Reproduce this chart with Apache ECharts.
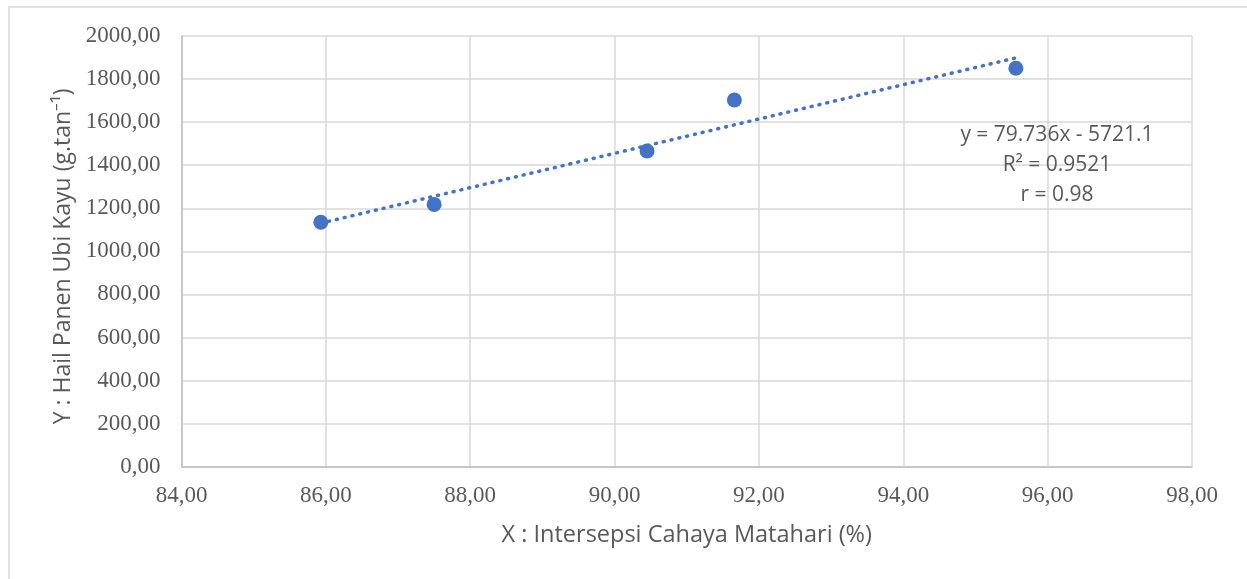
<!DOCTYPE html>
<html>
<head>
<meta charset="utf-8">
<script src="https://cdn.jsdelivr.net/npm/echarts@6/dist/echarts.min.js"></script>
<style>html,body{margin:0;padding:0;background:#fff;}#c{width:1247px;height:579px;}</style>
</head>
<body>
<div id="c"></div>
<script>
// Data
const xValues = [85.93, 87.50, 90.45, 91.66, 95.56];
const yValues = [1135, 1218, 1466, 1703, 1850];
// Trendline endpoints (linear fit as shown on chart)
const trendX = [85.93, 95.56];
const trendY = [1130.6, 1898.4];
const equationLines = ['y = 79.736x - 5721.1', 'R² = 0.9521', 'r = 0.98'];
const xTitle = 'X : Intersepsi Cahaya Matahari (%)';
const yTitle = 'Y : Hail Panen Ubi Kayu (g.tan⁻¹)';
const xMin = 84, xMax = 98, xStep = 2;
const yMin = 0, yMax = 2000, yStep = 200;

const fmt = v => v.toFixed(2).replace('.', ',');
const chart = echarts.init(document.getElementById('c'), null, {renderer: 'canvas'});
const tickFont = {fontFamily: '"Liberation Serif", "Times New Roman", serif', fontSize: 23, color: '#595959'};
const sans = '"Open Sans", "Noto Sans", sans-serif';

chart.setOption({
  animation: false,
  backgroundColor: '#fff',
  grid: {left: 181.5, right: 55, top: 36, bottom: 112.3, containLabel: false},
  xAxis: {
    type: 'value', min: xMin, max: xMax, interval: xStep,
    name: xTitle, nameLocation: 'middle', nameGap: 57,
    nameTextStyle: {fontFamily: sans, fontSize: 23.5, color: '#595959'},
    axisLine: {show: true, onZero: false, lineStyle: {color: '#bfbfbf', width: 1.5}},
    axisTick: {show: false},
    splitLine: {show: true, lineStyle: {color: '#d9d9d9', width: 1.5}},
    axisLabel: Object.assign({formatter: fmt, margin: 18}, tickFont)
  },
  yAxis: {
    type: 'value', min: yMin, max: yMax, interval: yStep,
    name: yTitle, nameLocation: 'middle', nameGap: 106, nameRotate: 90,
    nameTextStyle: {fontFamily: sans, fontSize: 23, color: '#595959', padding: [0, 10, 0, 0]},
    axisLine: {show: true, onZero: false, lineStyle: {color: '#bfbfbf', width: 1.5}},
    axisTick: {show: false},
    splitLine: {show: true, lineStyle: {color: '#d9d9d9', width: 1.5}},
    axisLabel: Object.assign({formatter: fmt, margin: 21}, tickFont)
  },
  graphic: [
    {type: 'rect', silent: true, z: -10, shape: {x: 9, y: 7, width: 1260, height: 600},
     style: {fill: 'none', stroke: '#d9d9d9', lineWidth: 1.5}},
    {type: 'text', x: 1057, y: 165, z: 100,
     style: {text: equationLines.join('\n'), fontFamily: sans, fontSize: 21,
             fill: '#595959', textAlign: 'center', textVerticalAlign: 'middle', lineHeight: 30}}
  ],
  series: [
    {
      type: 'line', z: 1, symbol: 'none', silent: true,
      data: trendX.map((x, i) => [x, trendY[i]]),
      lineStyle: {color: '#4472C4', width: 3.5, type: [1, 7], cap: 'round'}
    },
    {
      type: 'scatter', z: 2, symbol: 'circle', symbolSize: 15,
      data: xValues.map((x, i) => [x, yValues[i]]),
      itemStyle: {color: '#4472C4', opacity: 1}
    }
  ]
});
</script>
</body>
</html>
